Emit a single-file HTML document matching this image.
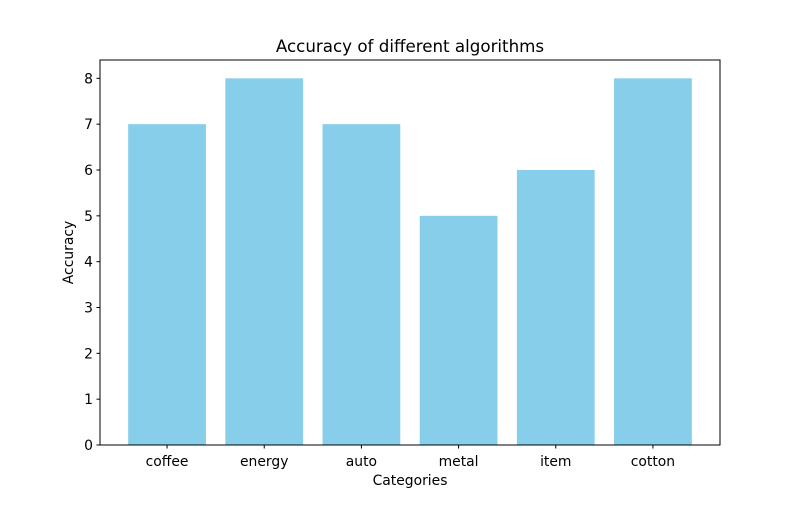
<!DOCTYPE html>
<html><head><meta charset="utf-8"><style>
body{margin:0;background:#fff;}
svg text{font-family:"DejaVu Sans","Liberation Sans",sans-serif;fill:#000;}
</style></head><body>
<svg id="chart" width="800" height="500" xmlns="http://www.w3.org/2000/svg">
<rect width="800" height="500" fill="#fff"/>
<text x="410" y="52" font-size="16.7" text-anchor="middle">Accuracy of different algorithms</text>
<g id="bars"></g><g id="yticks"></g><g id="xticks"></g>
<rect x="100" y="60" width="620" height="385" fill="none" stroke="#000" stroke-width="1"/>
<text x="410" y="485" font-size="13.9" text-anchor="middle">Categories</text>
<text transform="translate(73,252.5) rotate(-90)" font-size="13.9" text-anchor="middle">Accuracy</text>
</svg>
<script>
const categories=["coffee","energy","auto","metal","item","cotton"];
const values=[7,8,7,5,6,8];
const yTicks=[0,1,2,3,4,5,6,7,8];
const NS="http://www.w3.org/2000/svg";
const L=100,R=720,T=60,B=445;
const ymax=Math.max(...values)*1.05;
const xmin=-0.4-0.05*(categories.length-0.2),xmax=categories.length-0.6+0.05*(categories.length-0.2);
const xs=v=>L+(v-xmin)/(xmax-xmin)*(R-L);
const ys=v=>B-v/ymax*(B-T);
function mk(t,a,p){const e=document.createElementNS(NS,t);for(const k in a)e.setAttribute(k,a[k]);p.appendChild(e);return e;}
const gb=document.getElementById('bars'),gy=document.getElementById('yticks'),gx=document.getElementById('xticks');
categories.forEach((c,i)=>{
 const r=mk('rect',{x:xs(i-0.4),y:ys(values[i]),width:xs(i+0.4)-xs(i-0.4),height:ys(0)-ys(values[i]),fill:'#87ceeb'},gb);
 
 
 const tl=mk('line',{x1:xs(i),x2:xs(i),y1:B,y2:B+3.5,stroke:'#000'},gx);
 
 
 const t=mk('text',{x:xs(i),y:B+21,'font-size':13.9,'text-anchor':'middle'},gx);
 t.textContent=c;
 
 
});
yTicks.forEach(v=>{
 const tl=mk('line',{x1:L-3.5,x2:L,y1:ys(v),y2:ys(v),stroke:'#000'},gy);
 
 
 const t=mk('text',{x:L-7,y:ys(v)+5,'font-size':13.9,'text-anchor':'end'},gy);
 t.textContent=v;
 
 
});
</script>
</body></html>
